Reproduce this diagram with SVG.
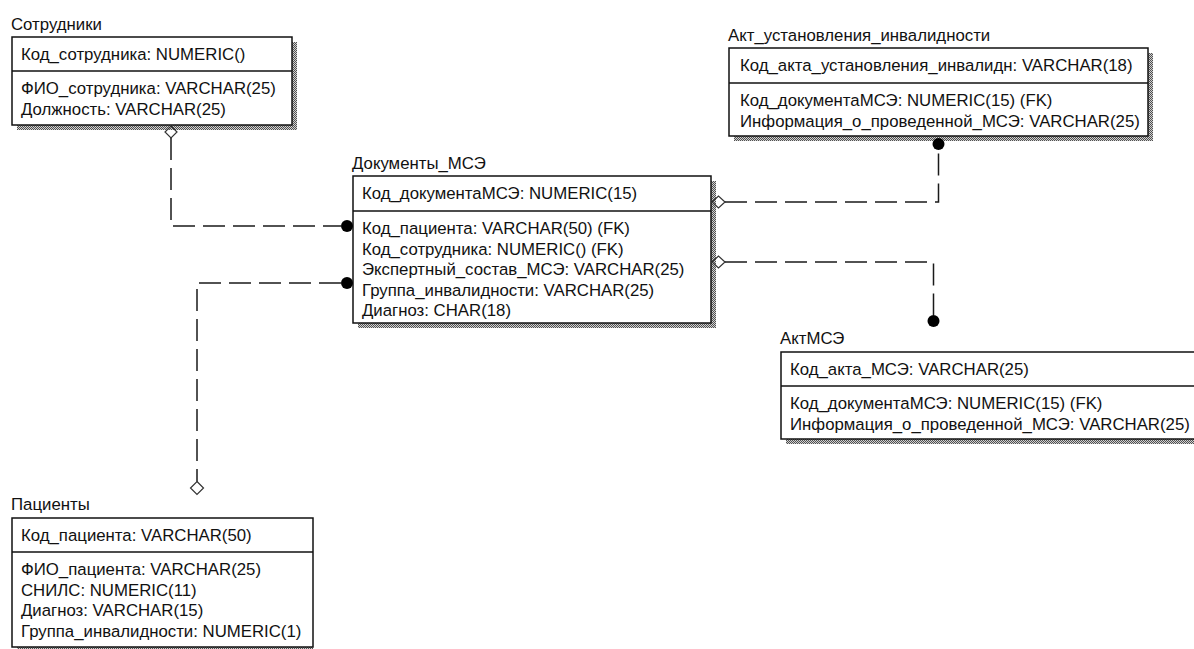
<svg xmlns="http://www.w3.org/2000/svg" width="1194" height="649" viewBox="0 0 1194 649">
<defs>
<pattern id="shade" width="2" height="2" patternUnits="userSpaceOnUse">
<rect width="2" height="2" fill="#d0d0d0"/>
<rect width="1" height="1" fill="#505050"/>
<rect x="1" y="1" width="1" height="1" fill="#505050"/>
</pattern>
</defs>
<style>
text{font-family:"Liberation Sans",Arial,sans-serif;font-size:16.8px;fill:#111}
.box{fill:#fff;stroke:#111;stroke-width:1.5}
.div{stroke:#111;stroke-width:1.5}
.sh{fill:url(#shade)}
.ln{fill:none;stroke:#1a1a1a;stroke-width:1.5;stroke-dasharray:22 8}
.dia{fill:none;stroke:#333;stroke-width:1.2}
.dot{fill:#000}
</style>
<rect width="1194" height="649" fill="#fff"/>

<g id="sotrudniki">
<text x="11" y="30">Сотрудники</text>
<rect class="sh" x="17" y="42" width="280" height="88"/>
<rect class="box" x="12" y="37" width="280" height="88"/>
<line class="div" x1="12" y1="71" x2="292" y2="71"/>
<text x="21" y="60">Код_сотрудника: NUMERIC()</text>
<text x="21" y="94">ФИО_сотрудника: VARCHAR(25)</text>
<text x="21" y="114.5">Должность: VARCHAR(25)</text>
</g>

<g id="dokumenty_mse">
<text x="352" y="169">Документы_МСЭ</text>
<rect class="sh" x="358" y="181" width="358" height="147"/>
<rect class="box" x="353" y="176" width="358" height="147"/>
<line class="div" x1="353" y1="211" x2="711" y2="211"/>
<text x="362" y="199">Код_документаМСЭ: NUMERIC(15)</text>
<text x="362" y="234">Код_пациента: VARCHAR(50) (FK)</text>
<text x="362" y="254.5">Код_сотрудника: NUMERIC() (FK)</text>
<text x="362" y="275">Экспертный_состав_МСЭ: VARCHAR(25)</text>
<text x="362" y="295.5">Группа_инвалидности: VARCHAR(25)</text>
<text x="362" y="316">Диагноз: CHAR(18)</text>
</g>

<g id="akt_ustanovleniya">
<text x="728" y="41">Акт_установления_инвалидности</text>
<rect class="sh" x="734" y="53" width="419" height="88"/>
<rect class="box" x="729" y="48" width="419" height="88"/>
<line class="div" x1="729" y1="83" x2="1148" y2="83"/>
<text x="740" y="71">Код_акта_установления_инвалидн: VARCHAR(18)</text>
<text x="740" y="106">Код_документаМСЭ: NUMERIC(15) (FK)</text>
<text x="740" y="126.5">Информация_о_проведенной_МСЭ: VARCHAR(25)</text>
</g>

<g id="akt_mse">
<text x="780" y="344">АктМСЭ</text>
<rect class="sh" x="786" y="357" width="420" height="87"/>
<rect class="box" x="781" y="352" width="420" height="87"/>
<line class="div" x1="781" y1="386" x2="1201" y2="386"/>
<text x="790" y="375">Код_акта_МСЭ: VARCHAR(25)</text>
<text x="790" y="409">Код_документаМСЭ: NUMERIC(15) (FK)</text>
<text x="790" y="429.5">Информация_о_проведенной_МСЭ: VARCHAR(25)</text>
</g>

<g id="pacienty">
<text x="11" y="510">Пациенты</text>
<rect class="sh" x="17" y="523" width="296" height="129"/>
<rect class="box" x="12" y="518" width="301" height="129"/>
<line class="div" x1="12" y1="552" x2="313" y2="552"/>
<text x="21" y="541">Код_пациента: VARCHAR(50)</text>
<text x="21" y="575">ФИО_пациента: VARCHAR(25)</text>
<text x="21" y="595.5">СНИЛС: NUMERIC(11)</text>
<text x="21" y="616">Диагноз: VARCHAR(15)</text>
<text x="21" y="636.5">Группа_инвалидности: NUMERIC(1)</text>
</g>

<g id="connectors">
<g id="r_sotrudniki_dokumenty">
<polygon class="dia" points="171,126 177,132 171,138 165,132"/>
<path class="ln" d="M171,138 V226 H341"/>
<circle class="dot" cx="347" cy="226" r="6"/>
</g>
<g id="r_pacienty_dokumenty">
<polygon class="dia" points="197,481.5 203.5,488 197,494.5 190.5,488"/>
<path class="ln" d="M341,283 H197 V481.5"/>
<circle class="dot" cx="347" cy="283" r="6"/>
</g>
<g id="r_dokumenty_akt_ust">
<polygon class="dia" points="712,202 718.5,196 725,202 718.5,208"/>
<path class="ln" d="M725,202 H938.5 V150"/>
<circle class="dot" cx="938.5" cy="144" r="6"/>
</g>
<g id="r_dokumenty_akt_mse">
<polygon class="dia" points="712,262 718.5,256 725,262 718.5,268"/>
<path class="ln" d="M725,262 H933.5 V315"/>
<circle class="dot" cx="933.5" cy="321" r="6"/>
</g>
</g>
</svg>
